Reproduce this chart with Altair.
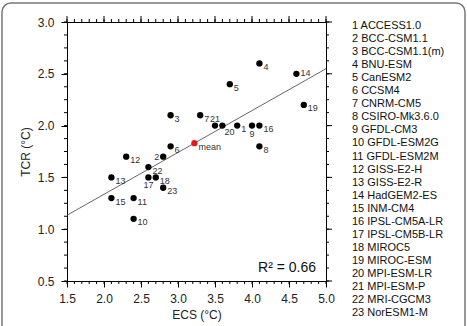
import altair as alt
import pandas as pd

# CMIP5 models: equilibrium climate sensitivity vs transient climate response
models = [
    "ACCESS1.0", "BCC-CSM1.1", "BCC-CSM1.1(m)", "BNU-ESM", "CanESM2", "CCSM4",
    "CNRM-CM5", "CSIRO-Mk3.6.0", "GFDL-CM3", "GFDL-ESM2G", "GFDL-ESM2M",
    "GISS-E2-H", "GISS-E2-R", "HadGEM2-ES", "INM-CM4", "IPSL-CM5A-LR",
    "IPSL-CM5B-LR", "MIROC5", "MIROC-ESM", "MPI-ESM-LR", "MPI-ESM-P",
    "MRI-CGCM3", "NorESM1-M",
]
ecs = [3.8, 2.8, 2.9, 4.1, 3.7, 2.9, 3.3, 4.1, 4.0, 2.4, 2.4, 2.3, 2.1, 4.6,
       2.1, 4.1, 2.6, 2.7, 4.7, 3.6, 3.5, 2.6, 2.8]
tcr = [2.0, 1.7, 2.1, 2.6, 2.4, 1.8, 2.1, 1.8, 2.0, 1.1, 1.3, 1.7, 1.5, 2.5,
       1.3, 2.0, 1.5, 1.5, 2.2, 2.0, 2.0, 1.6, 1.4]

x_major = [1.5, 2.0, 2.5, 3.0, 3.5, 4.0, 4.5, 5.0]
y_major = [0.5, 1.0, 1.5, 2.0, 2.5, 3.0]
x_minor = [round(1.5 + 0.1 * i, 2) for i in range(36)]
y_minor = [round(0.5 + 0.125 * i, 3) for i in range(21)]

ids = list(range(1, len(models) + 1))
df = pd.DataFrame({"id": ids, "model": models, "ecs": ecs, "tcr": tcr,
                   "label": [str(i) for i in ids]})

FONT = "Liberation Sans"
W = H = 259
xs = alt.Scale(domain=[1.5, 5.0], nice=False, zero=False)
ys = alt.Scale(domain=[0.5, 3.0], nice=False, zero=False)

common_axis = dict(grid=False, domain=False, tickColor="black", tickWidth=1,
                   tickSize=6, labelFont=FONT, labelFontSize=12,
                   labelColor="#222", labelFlush=False, labelOverlap=False,
                   format=".1f", titleFont=FONT, titleFontSize=12,
                   titleFontWeight="normal", titleColor="#222")
x_axis = alt.Axis(orient="bottom", values=x_major, title="ECS (°C)",
                  labelPadding=6, titlePadding=5, **common_axis)
y_axis = alt.Axis(orient="left", values=y_major, title="TCR (°C)",
                  labelPadding=7, titlePadding=5, **common_axis)


def X():
    return alt.X("ecs:Q", scale=xs, axis=x_axis)


def Y():
    return alt.Y("tcr:Q", scale=ys, axis=y_axis)


base = alt.Chart(df)

# least-squares fit across the full ECS range
fit = base.transform_regression("ecs", "tcr", extent=[1.5, 5.0]).mark_line(
    color="#555", strokeWidth=0.9
).encode(x=X(), y=Y())

# short tick marks on the remaining sides of the frame, in data units
px_x = 3.5 / W   # one pixel in ECS units
px_y = 2.5 / H   # one pixel in TCR units


def xticks(values, y0, length):
    return alt.Chart(pd.DataFrame({"ecs": values})).mark_rule(
        color="black", strokeWidth=1
    ).encode(
        x=X(),
        y=alt.YDatum(y0, scale=ys, axis=y_axis),
        y2=alt.Y2Datum(y0 + length * px_y),
    )


def yticks(values, x0, length):
    return alt.Chart(pd.DataFrame({"tcr": values})).mark_rule(
        color="black", strokeWidth=1
    ).encode(
        y=Y(),
        x=alt.XDatum(x0, scale=xs, axis=x_axis),
        x2=alt.X2Datum(x0 + length * px_x),
    )


ticks = [
    xticks(x_minor, 0.5, -3), xticks(x_minor, 3.0, 3), xticks(x_major, 3.0, 6),
    yticks(y_minor, 1.5, -3), yticks(y_minor, 5.0, 3), yticks(y_major, 5.0, 6),
]

dots = base.mark_circle(size=40, color="black", opacity=1).encode(x=X(), y=Y())

mean = base.transform_aggregate(ecs="mean(ecs)", tcr="mean(tcr)")
mean_dot = mean.mark_circle(size=40, color="#e31a1c", opacity=1).encode(
    x=X(), y=Y()
)
mean_txt = mean.mark_text(align="left", baseline="middle", dx=4, dy=3.5,
                          font=FONT, fontSize=9, color="#333").encode(
    x=X(), y=Y(), text=alt.value("mean")
)

# number labels beside each model point
special = {
    "left_of": ([2], dict(align="right", dx=-4, dy=0)),
    "below": ([9, 17], dict(align="center", dx=0, dy=8)),
    "above": ([21], dict(align="center", dx=0, dy=-7)),
    "level": ([14], dict(align="left", dx=4, dy=-1)),
    "low": ([20], dict(align="left", dx=2, dy=6)),
}
taken = [i for grp in special.values() for i in grp[0]]
label_layers = [
    base.transform_filter(~alt.FieldOneOfPredicate(field="id", oneOf=taken))
    .mark_text(align="left", baseline="middle", dx=4, dy=3.5, font=FONT,
               fontSize=9, color="#333")
    .encode(x=X(), y=Y(), text="label:N")
]
for grp_ids, style in special.values():
    label_layers.append(
        base.transform_filter(alt.FieldOneOfPredicate(field="id", oneOf=grp_ids))
        .mark_text(baseline="middle", font=FONT, fontSize=9, color="#333", **style)
        .encode(x=X(), y=Y(), text="label:N")
    )

# coefficient of determination of the fit
r2 = base.transform_regression("ecs", "tcr", params=True).transform_calculate(
    txt="'R² = ' + format(datum.rSquared, '.2f')"
).mark_text(align="right", baseline="middle", font=FONT, fontSize=14,
            color="#111").encode(
    x=alt.value(249), y=alt.value(246), text="txt:N"
)

# model key to the right of the panel
key_lines = [f"{i} {m}" for i, m in zip(ids, models)]
key = alt.Chart(pd.DataFrame({"k": [0]})).mark_text(
    align="left", baseline="alphabetic", font=FONT, fontSize=11,
    color="#111", lineHeight=13.05
).encode(x=alt.value(285), y=alt.value(7), text=alt.value(key_lines))

frame = alt.Chart(pd.DataFrame({"f": [0]})).mark_rect(
    fill="transparent", stroke="#777", strokeWidth=1.5, cornerRadius=9
).encode(x=alt.value(-65), x2=alt.value(398), y=alt.value(-19), y2=alt.value(340))

chart = alt.layer(
    fit, dots, mean_dot, mean_txt, *label_layers, r2, key, frame, *ticks
).properties(
    width=W, height=H,
    autosize=alt.AutoSizeParams(type="none"),
    padding={"left": 67, "top": 22, "right": 141, "bottom": 45},
    background="white",
).configure_view(stroke="black", strokeWidth=1)

chart.save("out.html", embed_options={"renderer": "svg", "actions": False})
